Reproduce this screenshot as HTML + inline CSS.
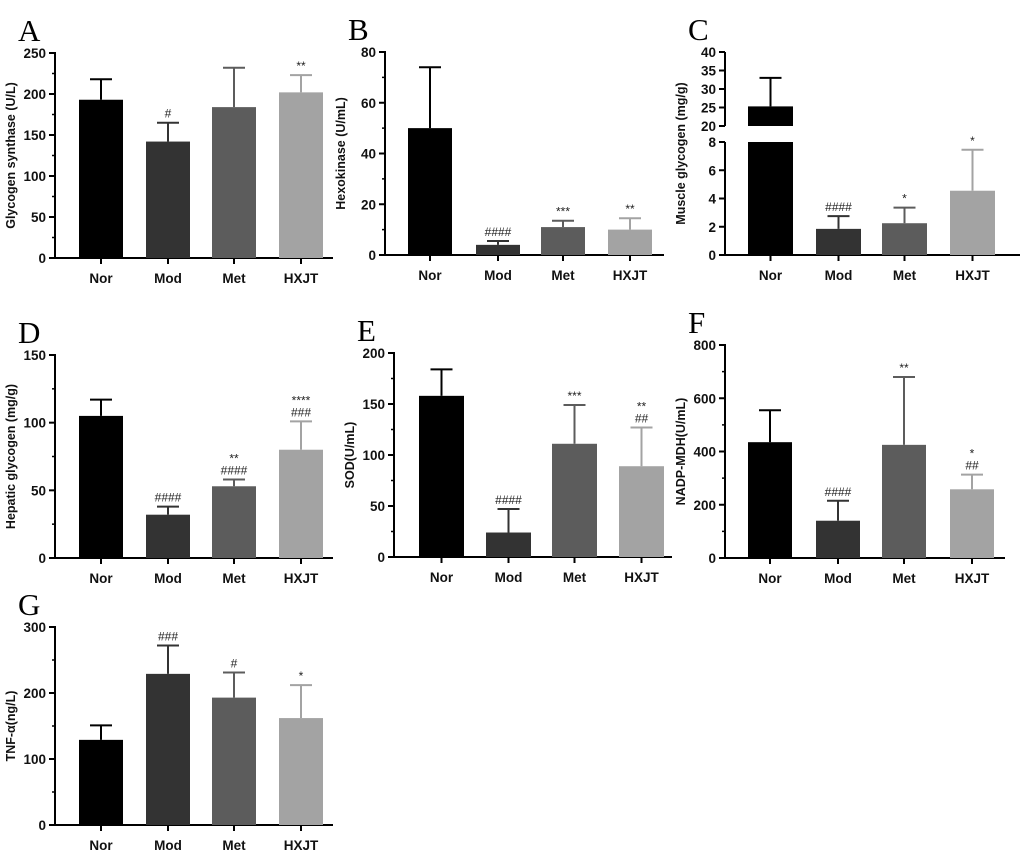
<!DOCTYPE html>
<html><head><meta charset="utf-8">
<style>
body{margin:0;background:#fff;width:1024px;height:851px;overflow:hidden}
svg{display:block}
.tk{font-family:"Liberation Sans",sans-serif;font-weight:bold;font-size:13.5px;fill:#111}
.yl{font-family:"Liberation Sans",sans-serif;font-weight:bold;font-size:12.5px;fill:#111}
.an{font-family:"Liberation Sans",sans-serif;font-size:12px;fill:#222}
.pl{font-family:"Liberation Serif",serif;font-size:31px;fill:#000}
</style></head>
<body>
<svg id="fig" width="1024" height="851" xmlns="http://www.w3.org/2000/svg"></svg>
<script>
const categories = ["Nor","Mod","Met","HXJT"];
const colors = ["#000000","#333333","#5c5c5c","#a3a3a3"];
const aMeans=[193,142,184,202], aErr=[25,23,48,21], aTicks=[0,50,100,150,200,250], aAnn=["","#","","**"];
const bMeans=[50,4,11,10], bErr=[24,1.5,2.5,4.5], bTicks=[0,20,40,60,80], bAnn=["","####","***","**"];
const cMeans=[25.3,1.85,2.25,4.55], cErr=[7.7,0.9,1.1,2.9], cTicksLow=[0,2,4,6,8], cTicksHigh=[20,25,30,35,40], cAnn=["","####","*","*"];
const dMeans=[105,32,53,80], dErr=[12,6,5,21], dTicks=[0,50,100,150], dAnn=["","####","**\n####","****\n###"];
const eMeans=[158,24,111,89], eErr=[26,23,38,38], eTicks=[0,50,100,150,200], eAnn=["","####","***","**\n##"];
const fMeans=[435,140,425,258], fErr=[120,75,255,55], fTicks=[0,200,400,600,800], fAnn=["","####","**","*\n##"];
const gMeans=[129,229,193,162], gErr=[22,43,38,50], gTicks=[0,100,200,300], gAnn=["","###","#","*"];

const svg=document.getElementById('fig');
const NS="http://www.w3.org/2000/svg";
function mk(tag,attrs,parent,name,txt){const e=document.createElementNS(NS,tag);for(const k in attrs)e.setAttribute(k,attrs[k]);


if(txt!==undefined)e.textContent=txt;parent.appendChild(e);return e;}

function panel(o){
  const g=mk('g',{},svg,'panel-'+o.id);
  mk('text',{x:o.ax-37,y:o.top-12,class:'pl'},g,'panel-label-'+o.id,o.id);
  const ys=o.ys;
  if(o.breakAxis){
    mk('line',{x1:o.ax,y1:o.top,x2:o.ax,y2:o.breakHiY,stroke:'#000','stroke-width':2},g,'y-axis-upper');
    mk('line',{x1:o.ax,y1:o.breakLoY,x2:o.ax,y2:o.y0,stroke:'#000','stroke-width':2},g,'y-axis-lower');
  } else mk('line',{x1:o.ax,y1:o.top-1,x2:o.ax,y2:o.y0,stroke:'#000','stroke-width':2},g,'y-axis');
  mk('line',{x1:o.ax-6,y1:o.y0,x2:o.axEnd,y2:o.y0,stroke:'#000','stroke-width':2},g,'x-axis');
  o.ticks.forEach((t,i)=>{const y=ys(t);
    mk('line',{x1:o.ax-6,y1:y,x2:o.ax,y2:y,stroke:'#000','stroke-width':2},g,'y-tick');
    mk('text',{x:o.ax-9,y:y+5,'text-anchor':'end',class:'tk'},g,'y-tick-label',t);
    if(!o.noMinor&&i<o.ticks.length-1){const ym=ys((t+o.ticks[i+1])/2);
      mk('line',{x1:o.ax-3,y1:ym,x2:o.ax,y2:ym,stroke:'#000','stroke-width':1.5},g,'y-minor-tick');}
  });
  const cy=(o.top+o.y0)/2;
  mk('text',{x:0,y:0,transform:`translate(${o.ax-40},${cy}) rotate(-90)`,'text-anchor':'middle',class:'yl'},g,'y-axis-title',o.ylabel);
  categories.forEach((c,i)=>{
    const x=o.bx[i], w=o.bw, v=o.means[i], e=o.errs[i];
    let ytop=ys(v);
    if(o.breakAxis&&v>o.breakVal){
      mk('rect',{x:x,y:o.breakLoY,width:w,height:o.y0-o.breakLoY,fill:colors[i]},g,'bar-'+c.toLowerCase()+'-lower');
      mk('rect',{x:x,y:ytop,width:w,height:o.breakHiY-ytop,fill:colors[i]},g,'bar-'+c.toLowerCase()+'-upper');
    } else mk('rect',{x:x,y:ytop,width:w,height:o.y0-ytop,fill:colors[i]},g,'bar-'+c.toLowerCase());
    const cx=x+w/2, ye=ys(v+e);
    mk('line',{x1:cx,y1:ytop,x2:cx,y2:ye,stroke:colors[i],'stroke-width':2},g,'error-bar');
    mk('line',{x1:cx-11,y1:ye,x2:cx+11,y2:ye,stroke:colors[i],'stroke-width':2},g,'error-cap');
    mk('line',{x1:cx,y1:o.y0,x2:cx,y2:o.y0+6,stroke:'#000','stroke-width':2},g,'x-tick');
    mk('text',{x:cx,y:o.y0+25,'text-anchor':'middle',class:'tk'},g,'x-tick-label',c);
    const lines=o.ann[i]?o.ann[i].split('\n'):[];
    lines.forEach((s,j)=>{
      mk('text',{x:cx,y:ye-5-(lines.length-1-j)*12,'text-anchor':'middle',class:'an'},g,'significance-mark',s);
    });
  });
}
const bxL=[79,146,212,279], bxM=[408,476,541,608], bxE=[419,486,552,619], bxR=[748,816,882,950];
function lin(v0,v1,y0,y1){return v=>y0+(v-v0)*(y1-y0)/(v1-v0);}

panel({id:'A',ax:55,axEnd:333,top:53,y0:258,ys:lin(0,250,258,53),ticks:aTicks,means:aMeans,errs:aErr,ann:aAnn,bx:bxL,bw:44,ylabel:'Glycogen synthase (U/L)'});
panel({id:'B',ax:385,axEnd:664,top:52,y0:255,ys:lin(0,80,255,52),ticks:bTicks,means:bMeans,errs:bErr,ann:bAnn,bx:bxM,bw:44,ylabel:'Hexokinase (U/mL)'});
const cLow=lin(0,8,255,142), cHigh=lin(20,40,126,52);
const cys=v=>v>8?cHigh(v):cLow(v);
panel({id:'C',ax:725,axEnd:1020,top:52,y0:255,ys:cys,ticks:cTicksLow.concat(cTicksHigh),noMinor:true,breakAxis:true,breakHiY:126,breakLoY:142,breakVal:8,means:cMeans,errs:cErr,ann:cAnn,bx:bxR,bw:45,ylabel:'Muscle glycogen (mg/g)'});
panel({id:'D',ax:55,axEnd:333,top:355,y0:558,ys:lin(0,150,558,355),ticks:dTicks,means:dMeans,errs:dErr,ann:dAnn,bx:bxL,bw:44,ylabel:'Hepatic glycogen (mg/g)'});
panel({id:'E',ax:394,axEnd:672,top:353,y0:557,ys:lin(0,200,557,353),ticks:eTicks,means:eMeans,errs:eErr,ann:eAnn,bx:bxE,bw:45,ylabel:'SOD(U/mL)'});
panel({id:'F',ax:725,axEnd:1005,top:345,y0:558,ys:lin(0,800,558,345),ticks:fTicks,means:fMeans,errs:fErr,ann:fAnn,bx:bxR,bw:44,ylabel:'NADP-MDH(U/mL)'});
panel({id:'G',ax:55,axEnd:333,top:627,y0:825,ys:lin(0,300,825,627),ticks:gTicks,means:gMeans,errs:gErr,ann:gAnn,bx:bxL,bw:44,ylabel:'TNF-α(ng/L)'});
</script>
</body></html>
